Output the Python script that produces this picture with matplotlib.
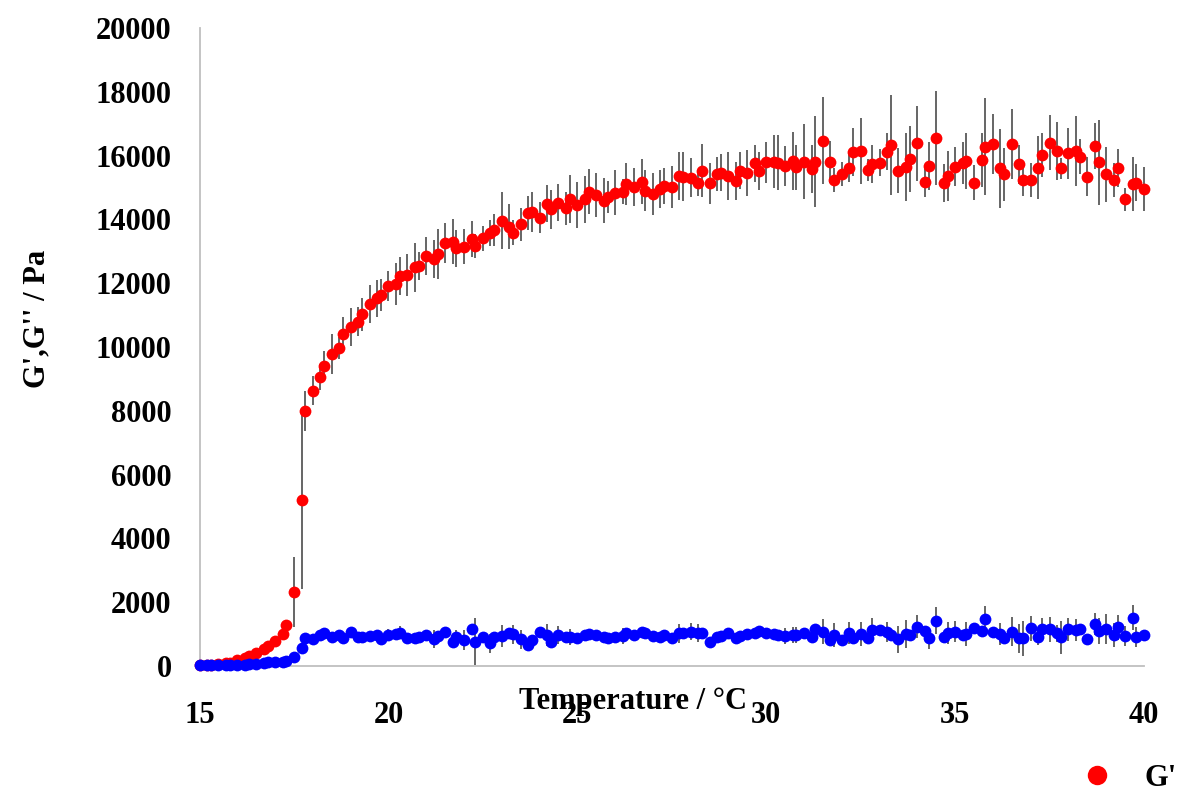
import matplotlib
matplotlib.use("Agg")
import matplotlib.pyplot as plt
from matplotlib.lines import Line2D

plt.rcParams['font.family'] = ['Liberation Serif', 'DejaVu Serif']
plt.rcParams['font.weight'] = 'bold'

# Temperature (°C)
temperature = [
    15.0, 15.2, 15.3, 15.5, 15.7, 15.8, 16.0, 16.2, 16.3, 16.5, 16.7, 16.8,
    17.0, 17.2, 17.3, 17.5, 17.7, 17.8, 18.0, 18.2, 18.3, 18.5, 18.7, 18.8,
    19.0, 19.2, 19.3, 19.5, 19.7, 19.8, 20.0, 20.2, 20.3, 20.5, 20.7, 20.8,
    21.0, 21.2, 21.3, 21.5, 21.7, 21.8, 22.0, 22.2, 22.3, 22.5, 22.7, 22.8,
    23.0, 23.2, 23.3, 23.5, 23.7, 23.8, 24.0, 24.2, 24.3, 24.5, 24.7, 24.8,
    25.0, 25.2, 25.3, 25.5, 25.7, 25.8, 26.0, 26.2, 26.3, 26.5, 26.7, 26.8,
    27.0, 27.2, 27.3, 27.5, 27.7, 27.8, 28.0, 28.2, 28.3, 28.5, 28.7, 28.8,
    29.0, 29.2, 29.3, 29.5, 29.7, 29.8, 30.0, 30.2, 30.3, 30.5, 30.7, 30.8,
    31.0, 31.2, 31.3, 31.5, 31.7, 31.8, 32.0, 32.2, 32.3, 32.5, 32.7, 32.8,
    33.0, 33.2, 33.3, 33.5, 33.7, 33.8, 34.0, 34.2, 34.3, 34.5, 34.7, 34.8,
    35.0, 35.2, 35.3, 35.5, 35.7, 35.8, 36.0, 36.2, 36.3, 36.5, 36.7, 36.8,
    37.0, 37.2, 37.3, 37.5, 37.7, 37.8, 38.0, 38.2, 38.3, 38.5, 38.7, 38.8,
    39.0, 39.2, 39.3, 39.5, 39.7, 39.8, 40.0,
]

# G' (Pa)
g_storage = [
    30, 30, 40, 50, 80, 103, 188, 250, 314, 417, 524, 627,
    784, 994, 1285, 2310, 5204, 7994, 8631, 9070, 9414, 9772, 9960, 10408,
    10618, 10794, 11026, 11349, 11528, 11631, 11913, 11966, 12226, 12258, 12499, 12540,
    12853, 12750, 12916, 13271, 13302, 13095, 13145, 13377, 13167, 13408, 13584, 13669,
    13960, 13772, 13584, 13847, 14211, 14242, 14054, 14484, 14318, 14525, 14349, 14631,
    14452, 14631, 14869, 14766, 14587, 14713, 14838, 14869, 15111, 15026, 15183, 14901,
    14797, 14944,
    15048, 15007, 15362, 15341, 15310, 15152, 15529, 15132, 15424, 15466,
    15372, 15205, 15529, 15466, 15758, 15518, 15790, 15811, 15779, 15675,
    15832, 15633, 15811, 15570, 15811, 16469, 15811, 15236, 15424, 15622,
    16124, 16145, 15550, 15738, 15779, 16124, 16333, 15529, 15633, 15894,
    16385, 15184, 15675, 16542, 15152, 15362, 15654, 15758, 15842, 15152,
    15863, 16281, 16365, 15602, 15414, 16365, 15727, 15236, 15236, 15622,
    16020, 16407, 16145, 15602, 16072, 16145, 15968, 15341, 16302, 15790,
    15414, 15236, 15602, 14630, 15100, 15152, 14954,
]
g_storage_err = [
    20, 20, 20, 20, 20, 25, 30, 30, 40, 40, 50, 50,
    60, 70, 120, 1100, 2800, 640, 455, 405, 470, 630, 340, 525,
    590, 460, 520, 610, 585, 505, 465, 660, 590, 665, 765, 425,
    590, 600, 780, 625, 700, 575, 545, 560, 365, 390, 410, 500,
    885, 700, 400, 510, 530, 625, 495, 580, 605, 585, 520, 755,
    715, 740, 700, 700, 700, 500, 700, 400, 650, 600, 700, 650,
    650, 600,
    573, 660, 760, 770, 610, 410, 830, 635, 540, 570,
    750, 610, 590, 720, 570, 610, 650, 830, 865, 615,
    895, 710, 1180, 755, 1430, 1370, 655, 385, 390, 460,
    755, 1020, 335, 590, 430, 585, 1570, 700, 1060, 1025,
    1170, 495, 755, 1475, 600, 775, 605, 660, 880, 555,
    860, 1510, 940, 1230, 830, 1090, 610, 505, 545, 990,
    680, 860, 910, 330, 805, 1100, 560, 600, 720, 1340,
    860, 530, 600, 355, 850, 590, 695,
]

# G'' (Pa)
g_loss = [
    20, 20, 25, 25, 30, 35, 40, 47, 63, 78, 94, 110,
    125, 140, 166, 273, 555,
    867, 836, 972, 1024, 920, 972, 867, 1076, 920, 920,
    941, 972, 836, 972, 993, 1045, 867, 867, 899, 972,
    836, 941, 1056, 763, 920, 815, 1150, 763, 920, 711,
    920, 941, 1024, 993, 836, 658, 815, 1076, 972, 763,
    972, 920, 920, 867, 972, 993, 972, 920, 867, 920,
    941, 1045, 972, 1076, 1024, 941, 920,
    972, 867, 1024, 1045, 1076, 1024, 1045, 763, 899, 941,
    1024, 867, 941, 1003, 1045, 1097, 1045, 1003, 972, 941,
    972, 972, 1045, 920, 1150, 1076, 815, 972, 815, 1024,
    867, 1003, 867, 1129, 1129, 1076, 972, 836, 1003, 972,
    1233, 1108, 867, 1421, 899, 1045, 1076, 972, 1003, 1181,
    1108, 1463, 1076, 1003, 867, 1076, 867, 867, 1181, 920,
    1150, 1150, 1024, 899, 1150, 1129, 1150, 836, 1317, 1108,
    1150, 972, 1212, 941, 1515, 920, 972,
]
g_loss_err = [
    10, 10, 10, 10, 10, 10, 15, 15, 15, 20, 20, 20,
    20, 25, 30, 40, 90,
    100, 80, 100, 120, 100, 90, 110, 150, 100, 90,
    100, 110, 90, 200, 120, 200, 100, 110, 120, 120,
    280, 100, 120, 120, 200, 310, 120, 730, 130, 300,
    150, 350, 120, 300, 300, 120, 150, 120, 330, 130,
    280, 120, 250, 120, 130, 180, 120, 120, 130, 120,
    250, 120, 120, 130, 150, 120, 130,
    120, 150, 300, 150, 275, 285, 130, 120, 140, 120,
    130, 150, 130, 140, 130, 130, 150, 150, 150, 260,
    260, 260, 150, 150, 150, 390, 150, 365, 150, 345,
    150, 365, 150, 365, 150, 315, 150, 420, 430, 150,
    365, 150, 335, 420, 150, 345, 335, 150, 365, 150,
    150, 410, 150, 335, 150, 460, 460, 545, 400, 260,
    365, 390, 260, 520, 355, 335, 150, 150, 345, 410,
    470, 390, 390, 315, 390, 315, 150,
]

x_ticks = [15, 20, 25, 30, 35, 40]
y_ticks = [0, 2000, 4000, 6000, 8000, 10000, 12000, 14000, 16000, 18000, 20000]

W, H = 1182, 794
fig = plt.figure(figsize=(W / 100, H / 100), dpi=100)
ax = fig.add_axes([199.5 / W, 1 - 666 / H, (1144 - 199.5) / W, (666 - 28) / H])

bar_color = '#595959'
c1 = ax.errorbar(temperature, g_storage, yerr=g_storage_err, fmt='o', color='#ff0000',
                 ms=8.5, mec='#ff0000', mew=0, ecolor=bar_color, elinewidth=1.3,
                 capsize=0, zorder=2)
c2 = ax.errorbar(temperature, g_loss, yerr=g_loss_err, fmt='o', color='#0000ff',
                 ms=8.5, mec='#0000ff', mew=0, ecolor=bar_color, elinewidth=1.3,
                 capsize=0, zorder=3)
for cont in (c1, c2):
    for art in cont.get_children():
        art.set_clip_on(False)

ax.set_xlim(15, 40)
ax.set_ylim(0, 20000)
ax.set_xticks(x_ticks)
ax.set_yticks(y_ticks)
ax.set_xticklabels([str(v) for v in x_ticks])
ax.set_yticklabels([str(v) for v in y_ticks])
ax.tick_params(axis='both', length=0, labelsize=22)
ax.tick_params(axis='x', pad=25)
ax.tick_params(axis='y', pad=20)
for lab in ax.get_xticklabels() + ax.get_yticklabels():
    lab.set_fontweight('bold')

for s in ['top', 'right']:
    ax.spines[s].set_visible(False)
for s in ['left', 'bottom']:
    ax.spines[s].set_color('#bfbfbf')
    ax.spines[s].set_linewidth(1.3)
    ax.spines[s].set_zorder(1)

fig.text(633 / W, 1 - 702 / H, 'Temperature / °C', ha='center', va='center',
         fontsize=22, fontweight='bold')
fig.text(37 / W, 1 - 319 / H, "G',G'' / Pa", ha='center', va='center',
         rotation=90, fontsize=22, fontweight='bold')

handle = Line2D([], [], ls='none', marker='o', color='#ff0000', ms=14, mew=0)
fig.legend(handles=[handle], labels=["G'"], loc='center left',
           bbox_to_anchor=(1082 / W, 1 - 778 / H), frameon=False,
           borderaxespad=0, borderpad=0, handlelength=1.0, handletextpad=1.06,
           prop={'size': 22, 'weight': 'bold'})

fig.savefig('out.png', dpi=100)
